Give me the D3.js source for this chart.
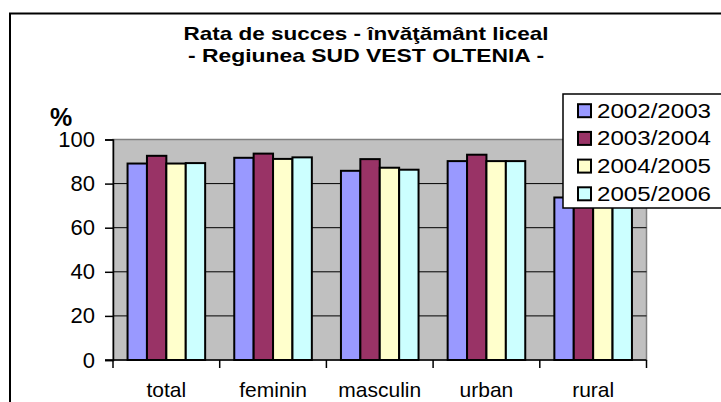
<!DOCTYPE html>
<html>
<head>
<meta charset="utf-8">
<script src="https://cdn.jsdelivr.net/npm/d3@7"></script>
<style>
  body { margin: 0; background: #fff; }
  text { font-family: Arial, "Liberation Sans", sans-serif; }
</style>
</head>
<body>
<svg width="721" height="402"></svg>
<script>
var categories = ["total", "feminin", "masculin", "urban", "rural"];
var series = ["2002/2003", "2003/2004", "2004/2005", "2005/2006"];
var colors = ["#9999FF", "#993366", "#FFFFCC", "#CCFFFF"];

// values per series, in category order
var v2002 = [89.1, 91.7, 85.8, 90.2, 73.7];
var v2003 = [92.6, 93.6, 91.1, 93.1, 80.6];
var v2004 = [89.1, 91.2, 87.2, 90.2, 75.1];
var v2005 = [89.3, 91.9, 86.3, 90.2, 76.2];
var values = [v2002, v2003, v2004, v2005];

var yTicks = [0, 20, 40, 60, 80, 100];

var svg = d3.select("svg");

// outer frame (runs past the right and bottom edges)
svg.append("rect")
   .attr("x", 10).attr("y", 13.5)
   .attr("width", 760).attr("height", 420)
   .attr("fill", "#fff")
   .attr("stroke", "#000")
   .attr("stroke-width", 2);

// title
svg.append("text")
   .attr("x", 366).attr("y", 39.5)
   .attr("text-anchor", "middle")
   .attr("font-size", 19).attr("font-weight", "bold")
   .attr("textLength", 365).attr("lengthAdjust", "spacingAndGlyphs")
   .text("Rata de succes - învăţământ liceal");
svg.append("text")
   .attr("x", 366).attr("y", 61.7)
   .attr("text-anchor", "middle")
   .attr("font-size", 19).attr("font-weight", "bold")
   .attr("textLength", 356).attr("lengthAdjust", "spacingAndGlyphs")
   .text("- Regiunea SUD VEST OLTENIA -");

var pLeft = 113, pRight = 646.5, pTop = 139.5, pBottom = 360;

var x0 = d3.scaleBand().domain(categories).range([pLeft, pRight]).padding(0);
var x1 = d3.scaleBand().domain(series).range([0, x0.bandwidth()])
   .paddingInner(0).paddingOuter(0.75);
var y = d3.scaleLinear().domain([0, 100]).range([pBottom, pTop]);

// plot area
svg.append("rect")
   .attr("x", pLeft).attr("y", pTop)
   .attr("width", pRight - pLeft).attr("height", pBottom - pTop)
   .attr("fill", "#C0C0C0")
   .attr("stroke", "#808080")
   .attr("stroke-width", 1.5);

// gridlines
svg.append("g")
   .selectAll("line")
   .data(yTicks.filter(function(d) { return d > 0 && d < 100; }))
   .enter().append("line")
   .attr("x1", pLeft).attr("x2", pRight)
   .attr("y1", function(d) { return y(d); })
   .attr("y2", function(d) { return y(d); })
   .attr("stroke", "#000")
   .attr("stroke-width", 1);

// bars
var groups = svg.append("g")
   .selectAll("g")
   .data(series)
   .enter().append("g")
   .attr("fill", function(d, i) { return colors[i]; });

groups.selectAll("rect")
   .data(function(s, i) { return values[i].map(function(v, j) { return { s: s, c: categories[j], v: v }; }); })
   .enter().append("rect")
   .attr("x", function(d) { return x0(d.c) + x1(d.s); })
   .attr("y", function(d) { return y(d.v); })
   .attr("width", x1.bandwidth())
   .attr("height", function(d) { return y(0) - y(d.v); })
   .attr("stroke", "#000")
   .attr("stroke-width", 2);

// y axis
var yAxis = svg.append("g")
   .attr("transform", "translate(" + pLeft + ",0)")
   .call(d3.axisLeft(y).tickValues(yTicks).tickSize(8).tickPadding(10));
yAxis.select(".domain").attr("stroke", "#000").attr("stroke-width", 1.5);
yAxis.selectAll(".tick line").attr("stroke-width", 1.5);
yAxis.selectAll("text")
   .attr("font-size", 22)
   .attr("font-family", "Arial, 'Liberation Sans', sans-serif")
   .attr("fill", "#000");

// x axis
var xAxis = svg.append("g")
   .attr("transform", "translate(0," + pBottom + ")")
   .call(d3.axisBottom(x0).tickSize(0).tickPadding(22));
xAxis.select(".domain").attr("stroke", "#000").attr("stroke-width", 1.5)
   .attr("d", "M" + (pLeft - 8) + ",0H" + pRight);
xAxis.selectAll("text")
   .attr("font-size", 21)
   .attr("font-family", "Arial, 'Liberation Sans', sans-serif")
   .attr("fill", "#000");

// category separators below the axis
svg.append("g")
   .selectAll("line")
   .data(categories.concat(["end"]))
   .enter().append("line")
   .attr("x1", function(d, i) { return pLeft + i * x0.step(); })
   .attr("x2", function(d, i) { return pLeft + i * x0.step(); })
   .attr("y1", pBottom).attr("y2", pBottom + 8)
   .attr("stroke", "#000")
   .attr("stroke-width", 1.5);

// axis unit
svg.append("text")
   .attr("x", 50).attr("y", 126)
   .attr("font-size", 25).attr("font-weight", "bold")
   .text("%");

// legend
var legend = svg.append("g").attr("transform", "translate(563,94)");
legend.append("rect")
   .attr("x", 0).attr("y", 0)
   .attr("width", 200).attr("height", 114)
   .attr("fill", "#fff")
   .attr("stroke", "#000")
   .attr("stroke-width", 1.5);

var item = legend.selectAll(".item")
   .data(series)
   .enter().append("g")
   .attr("class", "item")
   .attr("transform", function(d, i) { return "translate(0," + (16.7 + i * 27.7) + ")"; });

item.append("rect")
   .attr("x", 15).attr("y", -6.5)
   .attr("width", 13).attr("height", 13)
   .attr("fill", function(d, i) { return colors[i]; })
   .attr("stroke", "#000")
   .attr("stroke-width", 2);

item.append("text")
   .attr("x", 34).attr("y", 7)
   .attr("font-size", 20)
   .attr("textLength", 114).attr("lengthAdjust", "spacingAndGlyphs")
   .text(function(d) { return d; });
</script>
</body>
</html>
